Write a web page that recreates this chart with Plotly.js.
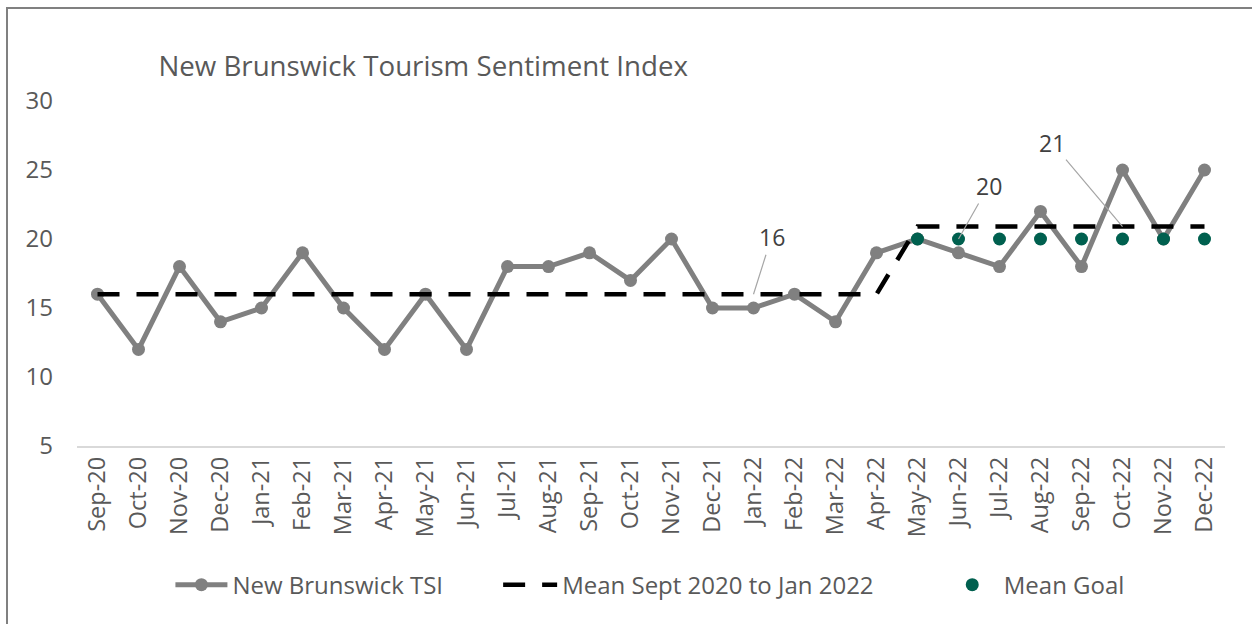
<!DOCTYPE html>
<html>
<head>
<meta charset="utf-8">
<script src="https://cdn.plot.ly/plotly-3.0.1.min.js"></script>
<style>
html,body{margin:0;padding:0;background:#fff;}
#wrap{position:relative;width:1252px;height:624px;}
#chart{width:1252px;height:624px;}
#frame{position:absolute;left:6px;top:7px;right:0;bottom:0;border-top:2px solid #808080;border-left:2px solid #808080;pointer-events:none;}
</style>
</head>
<body>
<div id="wrap"><div id="chart"></div><div id="frame"></div></div>
<script>
const months = ["Sep-20","Oct-20","Nov-20","Dec-20","Jan-21","Feb-21","Mar-21","Apr-21","May-21","Jun-21","Jul-21","Aug-21","Sep-21","Oct-21","Nov-21","Dec-21","Jan-22","Feb-22","Mar-22","Apr-22","May-22","Jun-22","Jul-22","Aug-22","Sep-22","Oct-22","Nov-22","Dec-22"];
const tsi = [16,12,18,14,15,19,15,12,16,12,18,18,19,17,20,15,15,16,14,19,20,19,18,22,18,25,20,25];
const meanLine = [16,16,16,16,16,16,16,16,16,16,16,16,16,16,16,16,16,16,16,16,20.9,20.9,20.9,20.9,20.9,20.9,20.9,20.9];
const meanGoal = [null,null,null,null,null,null,null,null,null,null,null,null,null,null,null,null,null,null,null,null,20,20,20,20,20,20,20,20];
const yTicks = [5,10,15,20,25,30];
const labelPoints = [
  {series: "mean", idx: 16},
  {series: "goal", idx: 21},
  {series: "mean", idx: 25}
];

const FONT = "Open Sans, DejaVu Sans, sans-serif";
const TXT = "#595959";

const traces = [
  {x: months, y: tsi, name: "New Brunswick TSI", type: "scatter", mode: "lines+markers",
   line: {color: "#808080", width: 5}, marker: {color: "#808080", size: 13}, legend: "legend"},
  {x: months, y: meanLine, name: "Mean Sept 2020 to Jan 2022", type: "scatter", mode: "lines",
   line: {color: "#000000", width: 4.5, dash: "22px,17px"}, legend: "legend2"},
  {x: months, y: meanGoal, name: "Mean Goal", type: "scatter", mode: "markers",
   marker: {color: "#00604F", size: 13}, legend: "legend3"}
];

const offsets = [[18,-57],[30,-53],[-71,-84]];
const annotations = labelPoints.map((p, i) => {
  const arr = p.series === "mean" ? meanLine : meanGoal;
  return {x: months[p.idx], y: arr[p.idx], xref: "x", yref: "y",
    text: String(Math.round(arr[p.idx])), showarrow: true, arrowhead: 0, arrowwidth: 1.2,
    arrowcolor: "#a6a6a6", ax: offsets[i][0], ay: offsets[i][1], standoff: 0,
    font: {family: FONT, size: 23, color: "#404040"}};
});

const legBase = {orientation: "h", yanchor: "middle", y: -0.403, xanchor: "left",
  bgcolor: "rgba(0,0,0,0)", font: {family: FONT, size: 24, color: TXT}};

const layout = {
  width: 1252, height: 624,
  margin: {l: 76.5, r: 26.5, t: 101, b: 178},
  paper_bgcolor: "#ffffff", plot_bgcolor: "#ffffff",
  font: {family: FONT, color: TXT},
  title: {text: "New Brunswick Tourism Sentiment Index", font: {family: FONT, size: 27.7, color: TXT},
    xref: "paper", x: 0.0709, xanchor: "left", yref: "container", y: 1 - 66/624, yanchor: "middle"},
  xaxis: {type: "category", range: [-0.5, 27.5], tickangle: -90, showline: true, linecolor: "#d9d9d9",
    linewidth: 1.5, ticks: "", showgrid: false, zeroline: false, tickfont: {family: FONT, size: 23.5, color: TXT},
    fixedrange: true},
  yaxis: {range: [5, 30], tickvals: yTicks, showgrid: false, zeroline: false, showline: false, ticks: "",
    tickfont: {family: FONT, size: 24, color: TXT}, ticklabelstandoff: 23, fixedrange: true},
  showlegend: true,
  legend: Object.assign({}, legBase, {x: (170 - 76.5) / 1149, itemwidth: 52}),
  legend2: Object.assign({}, legBase, {x: (498 - 76.5) / 1149, itemwidth: 54}),
  legend3: Object.assign({}, legBase, {x: (941 - 76.5) / 1149, itemwidth: 53}),
  annotations: annotations
};

Plotly.newPlot("chart", traces, layout, {displayModeBar: false, staticPlot: true});
</script>
</body>
</html>
